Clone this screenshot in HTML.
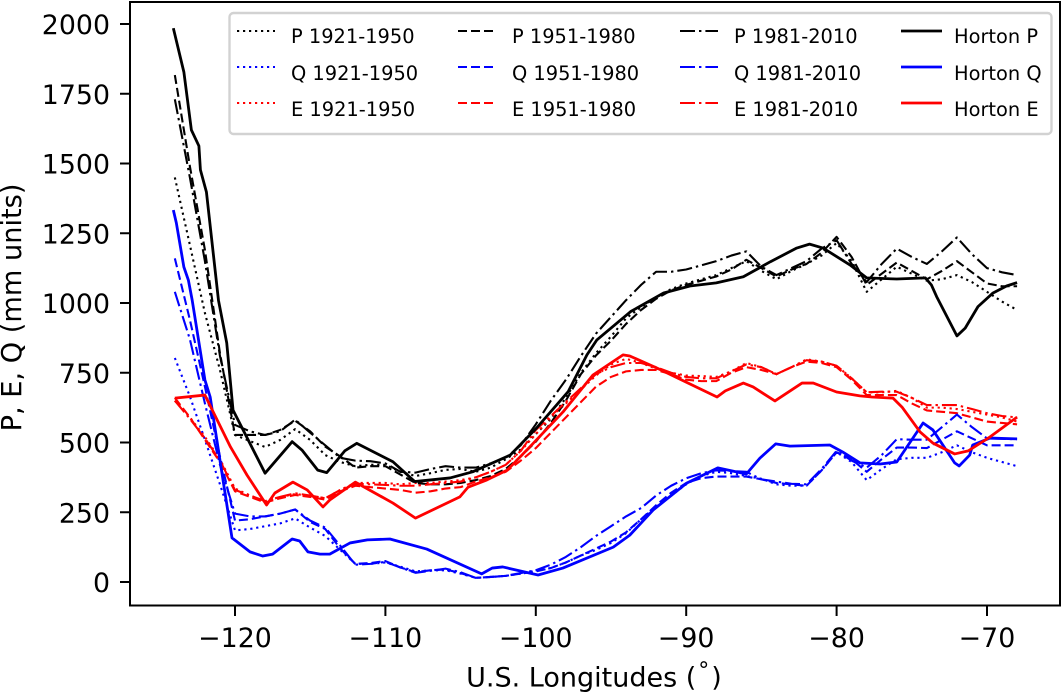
<!DOCTYPE html>
<html>
<head>
<meta charset="utf-8">
<title>P, E, Q by U.S. Longitude</title>
<style>
html,body{margin:0;padding:0;background:#fff;}
svg{display:block;font-family:"DejaVu Sans","Liberation Sans",sans-serif;}
</style>
</head>
<body>
<svg id="chart" xmlns="http://www.w3.org/2000/svg" width="1062" height="693" viewBox="0 0 1062 693">
  <rect x="0" y="0" width="1062" height="693" fill="#fff"/>
  <g id="series"></g>
  <g id="ticks"></g>
  <rect x="130" y="2" width="930" height="603.5" fill="none" stroke="#000" stroke-width="2"/>
  <text x="594" y="686.5" font-size="27" text-anchor="middle" fill="#000">U.S. Longitudes (<tspan dx="2" dy="-9" font-size="22">°</tspan><tspan dx="2" dy="9">)</tspan></text>
  <text transform="translate(21,307.5) rotate(-90)" font-size="27.2" text-anchor="middle" fill="#000">P, E, Q (mm units)</text>
  <g>
    <rect x="229.5" y="13" width="822" height="121" rx="4" ry="4" fill="#fff" fill-opacity="0.8" stroke="#d2d2d2" stroke-width="2.4"/>
    <g fill="none" stroke-width="2.1">
      <line x1="237" x2="275" y1="31" y2="31" stroke="#000" stroke-dasharray="2.2,3.8"/>
      <line x1="237" x2="275" y1="67" y2="67" stroke="#00f" stroke-dasharray="2.2,3.8"/>
      <line x1="237" x2="275" y1="103" y2="103" stroke="#f00" stroke-dasharray="2.2,3.8"/>
      <line x1="458" x2="497" y1="31" y2="31" stroke="#000" stroke-dasharray="9,4"/>
      <line x1="458" x2="497" y1="67" y2="67" stroke="#00f" stroke-dasharray="9,4"/>
      <line x1="458" x2="497" y1="103" y2="103" stroke="#f00" stroke-dasharray="9,4"/>
      <line x1="680" x2="718" y1="31" y2="31" stroke="#000" stroke-dasharray="15,4,2.4,4"/>
      <line x1="680" x2="718" y1="67" y2="67" stroke="#00f" stroke-dasharray="15,4,2.4,4"/>
      <line x1="680" x2="718" y1="103" y2="103" stroke="#f00" stroke-dasharray="15,4,2.4,4"/>
      <line x1="901" x2="942" y1="31" y2="31" stroke="#000" stroke-width="2.8"/>
      <line x1="901" x2="942" y1="67" y2="67" stroke="#00f" stroke-width="2.8"/>
      <line x1="901" x2="942" y1="103" y2="103" stroke="#f00" stroke-width="2.8"/>
    </g>
    <g font-size="19.4" fill="#000">
      <text x="291" y="43">P 1921-1950</text>
      <text x="291" y="80">Q 1921-1950</text>
      <text x="291" y="116">E 1921-1950</text>
      <text x="512" y="43">P 1951-1980</text>
      <text x="512" y="80">Q 1951-1980</text>
      <text x="512" y="116">E 1951-1980</text>
      <text x="734" y="43">P 1981-2010</text>
      <text x="734" y="80">Q 1981-2010</text>
      <text x="734" y="116">E 1981-2010</text>
      <text x="954" y="43">Horton P</text>
      <text x="954" y="80">Horton Q</text>
      <text x="954" y="116">Horton E</text>
    </g>
  </g>
</svg>
<script>
var xTickValues = [-120, -110, -100, -90, -80, -70];
var yTickValues = [0, 250, 500, 750, 1000, 1250, 1500, 1750, 2000];

var climateLon = [-124,-123,-122,-121,-120,-119,-118,-117,-116,-115,-114,-113,-112,-111,-110,-109,-108,-107,-106,-105,-104,-103,-102,-101,-100,-99,-98,-97,-96,-95,-94,-93,-92,-91,-90,-89,-88,-87,-86,-85,-84,-83,-82,-81,-80,-79,-78,-77,-76,-75,-74,-73,-72,-71,-70,-69,-68];

var p1921 = [1450,1208,964,760,527,505,484,509,548,509,455,430,415,420,420,395,380,390,402,405,395,410,440,475,530,585,660,750,820,880,945,985,1020,1050,1070,1085,1100,1125,1150,1115,1085,1115,1140,1170,1215,1150,1040,1085,1130,1105,1080,1085,1100,1075,1040,1005,975];
var p1951 = [1817,1490,1190,820,527,527,527,545,578,540,485,450,410,415,415,385,355,350,350,355,365,380,405,450,503,570,650,745,812,865,925,975,1015,1045,1065,1080,1095,1120,1155,1125,1095,1120,1140,1180,1237,1165,1065,1105,1145,1115,1085,1115,1150,1110,1070,1060,1060];
var p1981 = [1730,1450,1150,810,563,540,527,540,582,535,490,445,435,433,425,395,392,405,415,410,410,425,445,490,565,650,725,810,890,950,1010,1065,1112,1112,1120,1135,1150,1170,1185,1130,1100,1125,1150,1195,1225,1140,1075,1140,1195,1165,1140,1185,1235,1175,1125,1110,1100];

var q1921 = [803,665,510,350,185,190,200,210,228,195,165,115,65,65,70,55,38,42,42,30,15,18,22,30,40,50,70,95,115,140,175,225,270,310,350,380,395,390,380,370,350,345,345,400,465,430,365,405,440,445,445,465,490,465,445,430,415];
var q1951 = [1160,940,700,450,220,225,235,245,260,215,190,120,65,68,75,52,35,42,45,32,15,18,22,30,38,50,70,95,120,145,178,225,275,320,355,372,378,378,378,368,355,350,345,400,465,440,395,440,482,482,480,510,540,515,490,490,490];
var q1981 = [1040,870,640,420,245,235,235,245,260,220,195,130,62,65,72,52,33,40,48,35,15,18,22,32,42,62,90,125,165,200,235,265,310,345,372,390,400,398,395,368,360,352,350,405,470,435,410,455,512,510,510,555,600,555,515,513,512];

var e1921 = [650,590,520,440,335,310,290,305,315,310,300,330,355,355,355,350,355,355,360,365,375,395,420,470,530,590,640,690,740,780,800,785,765,750,740,738,735,755,785,770,745,770,798,790,775,730,680,680,685,660,625,625,620,610,600,590,575];
var e1951 = [660,590,510,430,325,305,285,300,312,305,295,325,345,340,335,330,320,325,335,340,360,375,395,435,480,535,590,645,700,735,755,760,760,745,725,720,720,750,770,760,745,770,790,785,770,725,670,670,670,640,615,610,605,590,575,570,565];
var e1981 = [650,585,515,435,330,310,290,305,318,310,300,330,352,350,348,345,345,350,355,360,375,395,420,470,545,595,645,695,745,770,785,785,770,750,735,730,730,755,780,770,745,770,795,790,775,730,680,682,682,660,634,634,634,620,605,595,590];

var hortonPLon = [-124.1,-123.4,-122.9,-122.4,-122.3,-121.9,-121.1,-120.55,-120.13,-118,-116.2,-115.55,-114.5,-113.9,-112.7,-111.9,-109.5,-108.05,-105.7,-104.2,-101.7,-99.95,-97.85,-96.6,-95.95,-93.7,-91.5,-89.75,-88,-86.2,-84.4,-82.65,-81.8,-80.9,-79.1,-78,-76,-74.1,-73.7,-73.35,-72,-71.45,-70.6,-69.6,-68.7,-68];
var hortonP = [1985,1828,1620,1563,1477,1398,1010,857,616,390,503,473,401,392,470,497,431,360,373,395,455,552,682,814,867,969,1036,1061,1072,1094,1148,1197,1211,1197,1136,1090,1086,1090,1065,1023,882,910,987,1036,1061,1073];

var hortonQLon = [-124.1,-123.9,-123.4,-123.1,-122.85,-122,-121.65,-120.2,-119,-118.15,-117.5,-116.2,-115.7,-115.15,-114.35,-113.7,-112.35,-111.2,-109.7,-107.25,-103.6,-102.9,-102.2,-99.85,-98.2,-94.85,-93.75,-92.2,-89.95,-87.9,-86,-85.1,-84.05,-83.1,-80.45,-79.6,-78.45,-77.1,-76,-74.25,-73.6,-72.15,-71.85,-71.15,-70.95,-69.8,-68];
var hortonQ = [1333,1287,1129,1082,1011,724,663,158,108,93,100,154,147,108,100,100,140,151,154,118,29,50,54,25,50,125,168,258,355,409,387,444,495,487,491,466,427,423,430,570,545,427,416,455,491,516,513];

var hortonELon = [-124,-122,-120.3,-119.2,-117.9,-117.35,-116.15,-115.2,-114.15,-113.7,-112,-109.5,-108,-105.05,-104.5,-103.25,-101.9,-100.4,-98.2,-96.2,-94.2,-93.75,-91.95,-87.95,-87.4,-86.2,-85.55,-84.1,-82.3,-81.55,-80,-78.45,-77.65,-76.25,-75.65,-74.45,-73.6,-72.15,-71.25,-69.8,-68];
var hortonE = [659,670,484,383,276,319,358,330,269,294,358,283,229,305,340,366,401,484,609,742,814,810,767,663,685,713,699,649,713,713,681,667,663,659,627,538,498,459,470,520,591];

var seriesList = [
  { key: 'p-1921', lon: climateLon, vals: p1921, color: '#000', dash: '2.2,3.8', width: 2.1 },
  { key: 'q-1921', lon: climateLon, vals: q1921, color: '#00f', dash: '2.2,3.8', width: 2.1 },
  { key: 'e-1921', lon: climateLon, vals: e1921, color: '#f00', dash: '2.2,3.8', width: 2.1 },
  { key: 'p-1951', lon: climateLon, vals: p1951, color: '#000', dash: '9,4', width: 2.1 },
  { key: 'q-1951', lon: climateLon, vals: q1951, color: '#00f', dash: '9,4', width: 2.1 },
  { key: 'e-1951', lon: climateLon, vals: e1951, color: '#f00', dash: '9,4', width: 2.1 },
  { key: 'p-1981', lon: climateLon, vals: p1981, color: '#000', dash: '15,4,2.4,4', width: 2.1 },
  { key: 'q-1981', lon: climateLon, vals: q1981, color: '#00f', dash: '15,4,2.4,4', width: 2.1 },
  { key: 'e-1981', lon: climateLon, vals: e1981, color: '#f00', dash: '15,4,2.4,4', width: 2.1 },
  { key: 'horton-p', lon: hortonPLon, vals: hortonP, color: '#000', dash: null, width: 2.8 },
  { key: 'horton-q', lon: hortonQLon, vals: hortonQ, color: '#00f', dash: null, width: 2.8 },
  { key: 'horton-e', lon: hortonELon, vals: hortonE, color: '#f00', dash: null, width: 2.8 }
];

var SVG_NS = 'http://www.w3.org/2000/svg';

function xScale(lon) {
  return 235 + (lon + 120) * 15.04;
}
function yScale(v) {
  return 582 - v * 0.279;
}

var seriesGroup = document.getElementById('series');
seriesList.forEach(function (s) {
  var pts = s.lon.map(function (lon, i) {
    return xScale(lon).toFixed(2) + ',' + yScale(s.vals[i]).toFixed(2);
  }).join(' ');
  var el = document.createElementNS(SVG_NS, 'polyline');
  
  
  el.setAttribute('points', pts);
  el.setAttribute('fill', 'none');
  el.setAttribute('stroke', s.color);
  el.setAttribute('stroke-width', s.width);
  el.setAttribute('stroke-linejoin', 'round');
  if (s.dash) {
    el.setAttribute('stroke-dasharray', s.dash);
  }
  seriesGroup.appendChild(el);
});

var ticksGroup = document.getElementById('ticks');
xTickValues.forEach(function (v) {
  var px = xScale(v);
  var tick = document.createElementNS(SVG_NS, 'line');
  
  
  tick.setAttribute('x1', px);
  tick.setAttribute('x2', px);
  tick.setAttribute('y1', 605);
  tick.setAttribute('y2', 616);
  tick.setAttribute('stroke', '#000');
  tick.setAttribute('stroke-width', 2);
  ticksGroup.appendChild(tick);
  var label = document.createElementNS(SVG_NS, 'text');
  
  
  label.setAttribute('x', px);
  label.setAttribute('y', 647);
  label.setAttribute('font-size', 26.8);
  label.setAttribute('text-anchor', 'middle');
  label.setAttribute('fill', '#000');
  label.textContent = '\u2212' + Math.abs(v);
  ticksGroup.appendChild(label);
});
yTickValues.forEach(function (v) {
  var py = yScale(v);
  var tick = document.createElementNS(SVG_NS, 'line');
  
  
  tick.setAttribute('x1', 120);
  tick.setAttribute('x2', 130);
  tick.setAttribute('y1', py);
  tick.setAttribute('y2', py);
  tick.setAttribute('stroke', '#000');
  tick.setAttribute('stroke-width', 2);
  ticksGroup.appendChild(tick);
  var label = document.createElementNS(SVG_NS, 'text');
  
  
  label.setAttribute('x', 110);
  label.setAttribute('y', py + 10);
  label.setAttribute('font-size', 26.8);
  label.setAttribute('text-anchor', 'end');
  label.setAttribute('fill', '#000');
  label.textContent = String(v);
  ticksGroup.appendChild(label);
});
</script>
</body>
</html>
